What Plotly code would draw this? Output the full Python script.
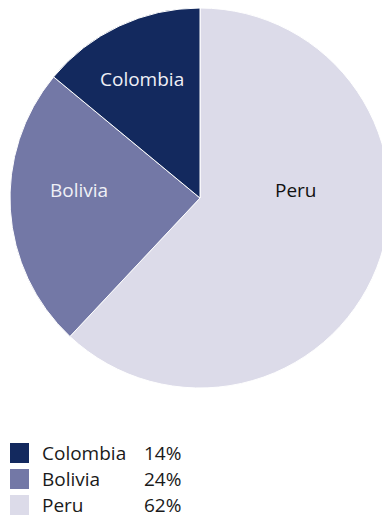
import plotly.graph_objects as go

countries = ["Peru", "Bolivia", "Colombia"]
shares = [62, 24, 14]
colors = ["#dcdbe9", "#7378a6", "#13295e"]
text_colors = ["#111111", "#f0f0f6", "#f0f0f6"]

legend_order = ["Colombia", "Bolivia", "Peru"]

# The page body adds an 8px margin, so the figure is sized to the visible area
OFF = 8
W, H = 390 - OFF, 517 - OFF
FONT = "Open Sans, sans-serif"
FS = 19

# label anchor points inside slices (page px)
label_pos = {"Peru": (296, 190), "Bolivia": (79, 190), "Colombia": (142, 79)}


def px(x):
    return (x - OFF) / W


def py(y):
    return 1 - (y - OFF) / H


fig = go.Figure()
fig.add_trace(go.Pie(
    labels=countries,
    values=shares,
    sort=False,
    direction="clockwise",
    rotation=0,
    marker=dict(colors=colors, line=dict(color="white", width=1)),
    textinfo="none",
    hoverinfo="label+percent",
    domain=dict(x=[px(10), px(390)], y=[py(388), py(8)]),
    showlegend=False,
))

shapes = []
annotations = []

for i, name in enumerate(countries):
    x, y = label_pos[name]
    annotations.append(dict(
        x=px(x), y=py(y), xref="paper", yref="paper",
        text=name, showarrow=False, xanchor="center", yanchor="middle",
        font=dict(family=FONT, size=FS, color=text_colors[i]),
    ))

row_centers = [453, 479, 505]
for i, name in enumerate(legend_order):
    idx = countries.index(name)
    yc = row_centers[i]
    shapes.append(dict(
        type="rect", xref="paper", yref="paper",
        x0=px(10), x1=px(29),
        y0=py(yc + 10), y1=py(yc - 10),
        fillcolor=colors[idx], line=dict(width=0),
    ))
    annotations.append(dict(
        x=px(40), y=py(yc), xref="paper", yref="paper",
        text=name, showarrow=False, xanchor="left", yanchor="middle",
        font=dict(family=FONT, size=FS, color="#1a1a1a"),
    ))
    annotations.append(dict(
        x=px(183), y=py(yc), xref="paper", yref="paper",
        text=f"{shares[idx]}%", showarrow=False, xanchor="right", yanchor="middle",
        font=dict(family=FONT, size=FS, color="#1a1a1a"),
    ))

fig.update_layout(
    width=W, height=H,
    margin=dict(l=0, r=0, t=0, b=0),
    paper_bgcolor="white",
    plot_bgcolor="white",
    shapes=shapes,
    annotations=annotations,
    showlegend=False,
)

fig.write_html("out.html")
